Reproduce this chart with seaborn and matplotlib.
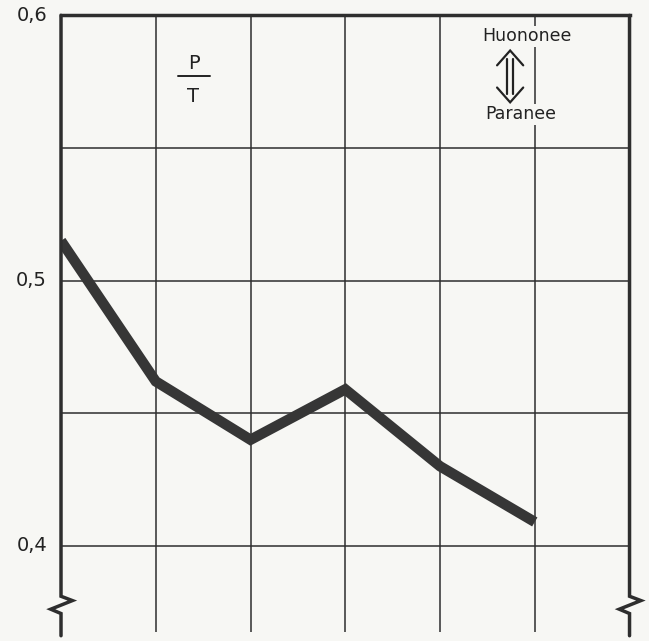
import matplotlib
matplotlib.use("Agg")
import matplotlib.pyplot as plt
import seaborn as sns
import pandas as pd

# data
positions = [0, 1, 2, 3, 4, 5]
ratio_pt = [0.515, 0.462, 0.440, 0.459, 0.430, 0.409]
ytick_values = [0.4, 0.5, 0.6]
ytick_labels = ["0,4", "0,5", "0,6"]
label_ratio_top = "P"
label_ratio_bottom = "T"
label_worse = "Huononee"
label_better = "Paranee"

sns.set_theme(style="white")
plt.rcParams["font.family"] = ["DejaVu Sans"]

ink = "#2e2e2e"
txt = "#222222"
bg = "#f7f7f4"

fig = plt.figure(figsize=(6.49, 6.41), dpi=100, facecolor=bg)
ax = fig.add_axes([0.094, 0.014, 0.876, 0.962])
ax.set_facecolor(bg)

df = pd.DataFrame({"x": positions, "y": ratio_pt})
sns.lineplot(data=df, x="x", y="y", ax=ax, color="#363636", linewidth=7.5,
             solid_joinstyle="miter", solid_capstyle="butt", zorder=5)

ax.set_xlim(0, 6)
ax.set_ylim(0.3675, 0.6)

# grid
for gx in range(1, 6):
    ax.axvline(gx, color=ink, linewidth=1.1, zorder=1)
for gy in [0.4, 0.45, 0.5, 0.55]:
    ax.axhline(gy, color=ink, linewidth=1.1, zorder=1)

ax.set_yticks(ytick_values)
ax.set_yticklabels(ytick_labels, fontsize=14, color=txt)
ax.set_xticks([])
ax.tick_params(axis="y", length=0, pad=10)
for lab in ax.get_yticklabels():
    lab.set_verticalalignment("center")
ax.set_xlabel("")
ax.set_ylabel("")

for s in ["left", "right", "bottom"]:
    ax.spines[s].set_visible(False)
ax.spines["top"].set_color(ink)
ax.spines["top"].set_linewidth(2.5)

# side axes with break marks
for x0 in (0, 1):
    xs = [x0, x0, x0 + 0.02, x0 - 0.018, x0, x0]
    ys = [1.0, 0.058, 0.051, 0.037, 0.030, -0.006]
    ax.plot(xs, ys, transform=ax.transAxes, color=ink, linewidth=2.5,
            clip_on=False, zorder=6, solid_joinstyle="miter")

# P/T label
ax.text(0.233, 0.922, label_ratio_top, transform=ax.transAxes, ha="center",
        va="center", fontsize=14, color=txt)
ax.plot([0.205, 0.262], [0.901, 0.901], transform=ax.transAxes, color=txt,
        linewidth=1.4)
ax.text(0.233, 0.869, label_ratio_bottom, transform=ax.transAxes, ha="center",
        va="center", fontsize=14, color=txt)

# worse / better labels
box = dict(facecolor=bg, edgecolor="none", pad=1)
ax.text(0.82, 0.966, label_worse, transform=ax.transAxes, ha="center",
        va="center", fontsize=12.5, color=txt, bbox=box, zorder=7)
ax.text(0.809, 0.8395, label_better, transform=ax.transAxes, ha="center",
        va="center", fontsize=12.5, color=txt, bbox=box, zorder=7)

# open double arrow
arrow_kw = dict(transform=ax.transAxes, color=txt, linewidth=1.6, zorder=7,
                solid_joinstyle="miter")
ax.plot([0.767, 0.790, 0.813], [0.919, 0.943, 0.919], **arrow_kw)
ax.plot([0.767, 0.790, 0.813], [0.883, 0.859, 0.883], **arrow_kw)
ax.plot([0.7845, 0.7845], [0.930, 0.872], **arrow_kw)
ax.plot([0.7955, 0.7955], [0.930, 0.872], **arrow_kw)

fig.savefig("out.png", dpi=100, facecolor=bg)
